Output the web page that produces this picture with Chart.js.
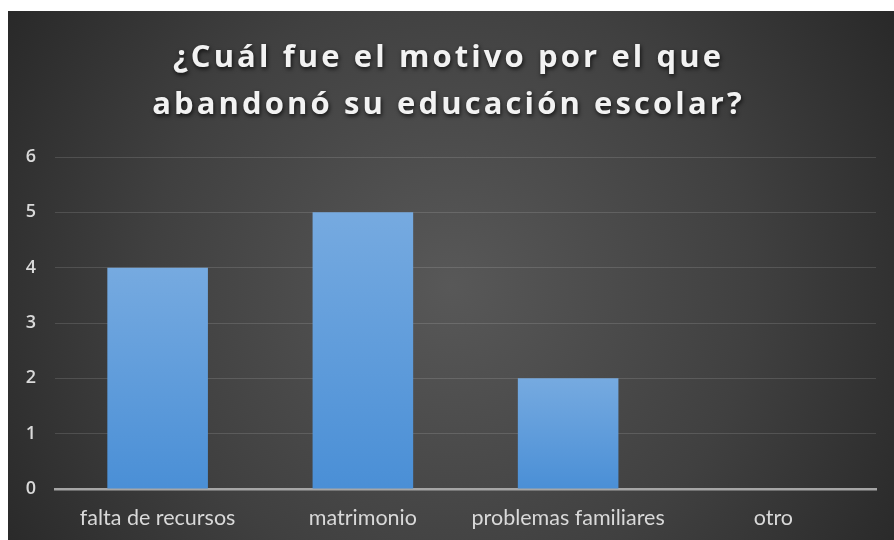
<!DOCTYPE html>
<html>
<head>
<meta charset="utf-8">
<script src="https://cdn.jsdelivr.net/npm/chart.js@4"></script>
<style>
  html, body { margin: 0; padding: 0; background: #ffffff; }
  #wrap { position: absolute; left: 8px; top: 11px; width: 886px; height: 529px; }
</style>
</head>
<body>
<div id="wrap"><canvas id="c"></canvas></div>
<script>
const titleLines = ['¿Cuál fue el motivo por el que', 'abandonó su educación escolar?'];
const categories = ['falta de recursos', 'matrimonio', 'problemas familiares', 'otro'];
const values = [4, 5, 2, 0];
const yTicks = [0, 1, 2, 3, 4, 5, 6];

const bgPlugin = {
  id: 'bg',
  beforeDraw(chart) {
    const { ctx, width, height } = chart;
    ctx.save();
    const g = ctx.createRadialGradient(width * 0.5, height * 0.52, 0, width * 0.5, height * 0.52, width * 0.62);
    g.addColorStop(0, '#585858');
    g.addColorStop(0.55, '#404040');
    g.addColorStop(1, '#262626');
    ctx.fillStyle = g;
    ctx.fillRect(0, 0, width, height);
    ctx.restore();
  }
};

const titlePlugin = {
  id: 'titleDraw',
  afterDraw(chart) {
    const { ctx, width } = chart;
    ctx.save();
    ctx.font = '700 31px "Open Sans", sans-serif';
    ctx.letterSpacing = '3.1px';
    ctx.textAlign = 'center';
    ctx.textBaseline = 'alphabetic';
    ctx.fillStyle = '#f2f2f2';
    ctx.shadowColor = 'rgba(0,0,0,0.75)';
    ctx.shadowBlur = 4;
    ctx.shadowOffsetX = 1;
    ctx.shadowOffsetY = 2;
    titleLines.forEach((t, i) => ctx.fillText(t, width / 2 - 2.5, 56 + i * 47));
    ctx.restore();
  }
};

function barGradient(context) {
  const chart = context.chart;
  const { ctx, chartArea, scales } = chart;
  if (!chartArea || !scales.y) return '#5b9bd5';
  const v = context.raw;
  const top = scales.y.getPixelForValue(v);
  const bottom = scales.y.getPixelForValue(0);
  if (!isFinite(top) || bottom - top < 1) return '#5b9bd5';
  const g = ctx.createLinearGradient(0, top, 0, bottom);
  g.addColorStop(0, '#76aae0');
  g.addColorStop(1, '#4a8fd6');
  return g;
}

new Chart(document.getElementById('c'), {
  type: 'bar',
  data: {
    labels: categories,
    datasets: [{
      data: values,
      backgroundColor: barGradient,
      borderWidth: 0,
      categoryPercentage: 1,
      barPercentage: 0.49
    }]
  },
  options: {
    responsive: true,
    maintainAspectRatio: false,
    animation: false,
    layout: { padding: { top: 146, right: 18, bottom: 10, left: 0 } },
    plugins: { legend: { display: false }, title: { display: false }, tooltip: { enabled: false } },
    scales: {
      x: {
        afterFit(axis) { axis.height = 41; },
        grid: { display: false, drawTicks: false },
        border: { display: true, color: '#a6a6a6', width: 2.5 },
        ticks: { color: '#d9d9d9', padding: 16, font: { family: 'Lato, sans-serif', size: 21.5 } }
      },
      y: {
        min: 0, max: 6,
        afterBuildTicks(axis) { axis.ticks = yTicks.map(v => ({ value: v })); },
        afterFit(axis) { axis.width = 47; },
        grid: { color: 'rgba(255,255,255,0.13)', lineWidth: 1, drawTicks: false },
        border: { display: false },
        ticks: { color: '#d9d9d9', padding: 19, font: { family: '"Open Sans", sans-serif', size: 18, weight: '600' } }
      }
    }
  },
  plugins: [bgPlugin, titlePlugin]
});
</script>
</body>
</html>
